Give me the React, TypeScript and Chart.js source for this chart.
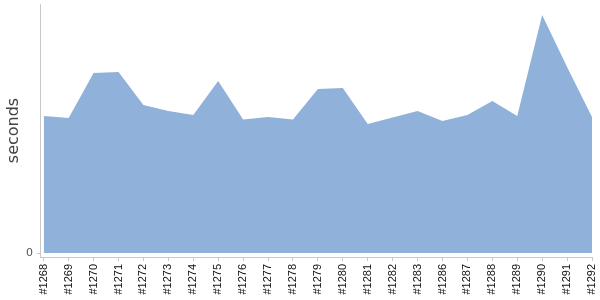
import React, { useEffect, useRef } from "react";
import { Chart, registerables } from "chart.js";

Chart.register(...registerables);

const builds = [
  "#1268", "#1269", "#1270", "#1271", "#1272", "#1273", "#1274", "#1275",
  "#1276", "#1277", "#1278", "#1279", "#1280", "#1281", "#1282", "#1283",
  "#1286", "#1287", "#1288", "#1289", "#1290", "#1291", "#1292",
];

const seconds = [
  137, 135, 180, 181, 148, 142, 138, 172,
  133.5, 136, 133.5, 164, 165, 129, 135.5, 142,
  132, 138, 152, 137, 238, 186, 136,
];

const yTicks = [0];

export default function App() {
  const ref = useRef<HTMLCanvasElement | null>(null);

  useEffect(() => {
    const canvas = ref.current;
    if (!canvas) return;
    const chart = new Chart(canvas, {
      type: "line",
      data: {
        datasets: [
          {
            label: "seconds",
            data: seconds.map((v, i) => ({ x: i, y: v })),
            fill: "origin",
            backgroundColor: "rgb(143,177,218)",
            borderColor: "rgb(143,177,218)",
            borderWidth: 0,
            pointRadius: 0,
            tension: 0,
          },
        ],
      },
      options: {
        responsive: false,
        animation: false,
        layout: { padding: { top: 4, right: 8, left: 0, bottom: 0 } },
        plugins: { legend: { display: false }, tooltip: { enabled: false } },
        scales: {
          x: {
            type: "linear",
            min: -0.15,
            max: builds.length - 1,
            afterBuildTicks: (scale: any) => {
              scale.ticks = builds.map((_, i) => ({ value: i }));
            },
            afterFit: (scale: any) => {
              scale.height = 43;
              scale.paddingLeft = 0;
              scale.paddingRight = 0;
            },
            ticks: {
              autoSkip: false,
              minRotation: 90,
              maxRotation: 90,
              padding: 3,
              color: "#111",
              font: { family: "'Liberation Sans', Arial, sans-serif", size: 11 },
              callback: (v: any) => builds[Math.round(Number(v))] ?? "",
            },
            grid: {
              display: true,
              drawOnChartArea: false,
              drawTicks: true,
              tickLength: 4,
              color: "#c8c8c8",
            },
            border: { display: true, color: "#c8c8c8" },
          },
          y: {
            type: "linear",
            min: -4,
            max: 249,
            afterBuildTicks: (scale: any) => {
              scale.ticks = yTicks.map((v) => ({ value: v }));
            },
            afterFit: (scale: any) => {
              scale.width = 40;
              scale.paddingTop = 0;
              scale.paddingBottom = 0;
            },
            ticks: {
              padding: 4,
              color: "#555",
              font: { family: "'DejaVu Sans', sans-serif", size: 11 },
              callback: (v: any) => String(v),
            },
            grid: {
              display: true,
              drawOnChartArea: false,
              drawTicks: true,
              tickLength: 3,
              color: "#c8c8c8",
            },
            border: { display: true, color: "#c8c8c8" },
            title: {
              display: true,
              text: "seconds",
              color: "#444",
              padding: { top: 4, bottom: 0 },
              font: { family: "'DejaVu Sans', sans-serif", size: 16 },
            },
          },
        },
      },
    });
    return () => chart.destroy();
  }, []);

  return (
    <div style={{ position: "absolute", left: 0, top: 0, width: 600, height: 300, background: "#fff" }}>
      <canvas ref={ref} width={600} height={300} style={{ display: "block" }} />
    </div>
  );
}
